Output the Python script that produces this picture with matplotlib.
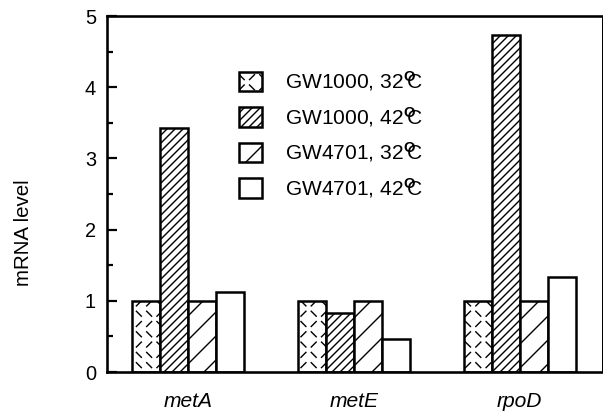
#!/usr/bin/env python
import warnings
import numpy as np
import matplotlib
matplotlib.use('Agg')
import matplotlib.pyplot as plt
from matplotlib import hatch as mhatch
from matplotlib.path import Path
from matplotlib.ticker import MultipleLocator

warnings.filterwarnings('ignore')

genes = ['metA', 'metE', 'rpoD']
series_labels = [
    r'GW1000, 32$^{\mathbf{O}}\!\!\!$C',
    r'GW1000, 42$^{\mathbf{O}}\!\!\!$C',
    r'GW4701, 32$^{\mathbf{O}}\!\!\!$C',
    r'GW4701, 42$^{\mathbf{O}}\!\!\!$C',
]
gw1000_32 = [1.0, 1.0, 1.0]
gw1000_42 = [3.42, 0.83, 4.74]
gw4701_32 = [1.0, 1.0, 1.0]
gw4701_42 = [1.13, 0.47, 1.34]
y_ticks = [0, 1, 2, 3, 4, 5]


class DashHatch(mhatch.HatchPatternBase):
    # short alternating dashes, used for the 'k' hatch character
    def __init__(self, hatch, density):
        self.n = hatch.count('k') * 7
        self.num_vertices = 2 * self.n * self.n

    def set_vertices_and_codes(self, vertices, codes):
        n = self.n
        step = 1.0 / n
        h = step * 0.24
        pts = []
        for i in range(n):
            for j in range(n):
                cx = (i + 0.5) * step
                cy = (j + 0.5) * step
                if (i + j) % 2:
                    pts += [(cx - h, cy - h), (cx + h, cy + h)]
                else:
                    pts += [(cx - h, cy + h), (cx + h, cy - h)]
        vertices[:] = pts
        codes[0::2] = Path.MOVETO
        codes[1::2] = Path.LINETO


mhatch._hatch_types.append(DashHatch)

plt.rcParams['font.family'] = ['Liberation Sans', 'DejaVu Sans']
plt.rcParams['mathtext.fontset'] = 'custom'
plt.rcParams['mathtext.rm'] = 'Liberation Sans'
plt.rcParams['mathtext.bf'] = 'Liberation Sans:bold'
plt.rcParams['mathtext.it'] = 'Liberation Sans:italic'
plt.rcParams['hatch.linewidth'] = 1.4

DPI = 72
fig = plt.figure(figsize=(603 / DPI, 411 / DPI), dpi=DPI)
ax = fig.add_axes([107 / 603, 1 - 372 / 411, 495 / 603, (372 - 16) / 411])

x = np.arange(len(genes))
w = 0.169
hatches = ['k', '///', '/', '']
series = [gw1000_32, gw1000_42, gw4701_32, gw4701_42]
handles = []
for i, (vals, hat) in enumerate(zip(series, hatches)):
    b = ax.bar(x + (i - 1.5) * w, vals, w, facecolor='white', edgecolor='black',
               linewidth=2.5, hatch=hat)
    handles.append(b)

ax.set_xlim(-0.491, 2.497)
ax.set_ylim(0, 5)
ax.set_yticks(y_ticks)
ax.yaxis.set_minor_locator(MultipleLocator(0.5))
ax.tick_params(axis='y', which='major', direction='in', length=10, width=2.2,
               labelsize=20, pad=11)
ax.tick_params(axis='y', which='minor', direction='in', length=6, width=2.2)
ax.set_xticks(x)
ax.set_xticklabels(genes, fontstyle='italic', fontsize=21)
ax.tick_params(axis='x', length=0, pad=20)

for s in ['left', 'bottom', 'top']:
    ax.spines[s].set_linewidth(2.6)
ax.spines['right'].set_linewidth(1.0)

ax.set_ylabel('mRNA level', fontsize=20.5)
ax.yaxis.set_label_coords(-0.15, 0.39)

leg = ax.legend(handles, series_labels, loc='upper left',
                bbox_to_anchor=(0.266, 0.85), frameon=False, fontsize=21,
                handlelength=1.1, handleheight=1.05, handletextpad=1.1,
                labelspacing=0.55, borderpad=0, borderaxespad=0)
for p in leg.get_patches():
    p.set_linewidth(2.5)

fig.savefig('out.png', dpi=DPI)
